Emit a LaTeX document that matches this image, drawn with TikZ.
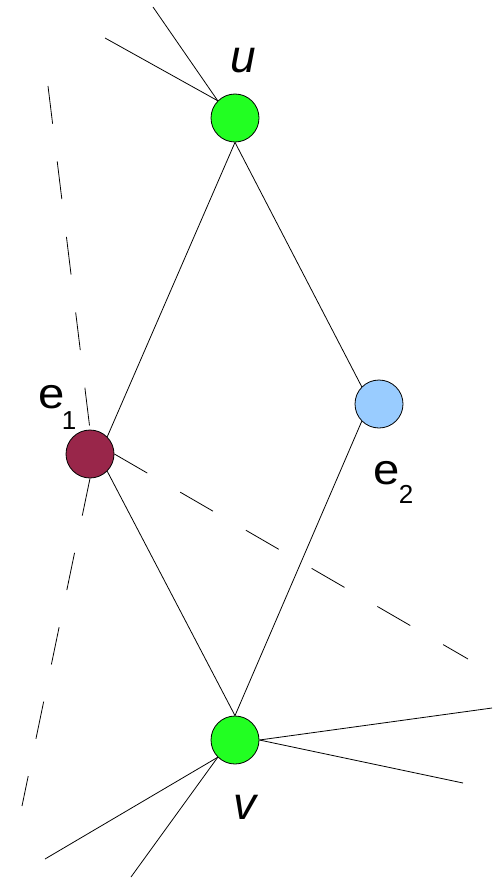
\documentclass[tikz,border=0pt]{standalone}
\usepackage{fontspec}
\setmainfont{Liberation Sans}
\begin{document}
\begin{tikzpicture}[x=1pt,y=-1pt,
  vert/.style={circle,draw=black,line width=0.8pt,minimum size=48pt,inner sep=0pt},
  edge/.style={draw=black,line width=0.8pt},
  dashedge/.style={draw=black,line width=0.8pt,dash pattern=on 38pt off 38pt},
  lbl/.style={font=\fontsize{46}{46}\selectfont,inner sep=0pt,anchor=base},
  elbl/.style={font=\fontsize{43}{43}\selectfont,inner sep=0pt,anchor=base,xscale=1.1},
  sub/.style={font=\fontsize{26}{26}\selectfont,inner sep=0pt,anchor=base}]
\definecolor{vgreen}{RGB}{34,255,34}
\definecolor{emaroon}{RGB}{153,38,74}
\definecolor{eblue}{RGB}{153,204,255}
\useasboundingbox (0,0) rectangle (497,880);

\node[vert,fill=vgreen] (u) at (235,118) {};
\node[vert,fill=emaroon] (e1) at (90,454) {};
\node[vert,fill=eblue] (e2) at (379,404) {};
\node[vert,fill=vgreen] (v) at (235,740) {};

\coordinate (ua) at (153,7);
\coordinate (ub) at (105,38);
\coordinate (va) at (492,708);
\coordinate (vb) at (463,783);
\coordinate (vc) at (45,859);
\coordinate (vd) at (131,877);
\coordinate (da) at (48,86);
\coordinate (db) at (22,806);
\coordinate (dc) at (468,659);

\draw[edge] (u.135) -- (ua);
\draw[edge] (u.135) -- (ub);
\draw[edge] (u.south) -- (e1.45);
\draw[edge] (u.south) -- (e2.135);
\draw[edge] (e1.-45) -- (v.north);
\draw[edge] (e2.-135) -- (v.north);
\draw[edge] (v.east) -- (va);
\draw[edge] (v.east) -- (vb);
\draw[edge] (v.225) -- (vc);
\draw[edge] (v.225) -- (vd);

\draw[dashedge] (da) -- (e1.north);
\draw[dashedge] (e1.south) -- (db);
\draw[dashedge] (e1.east) -- (dc);

\node[lbl] (lu) at (243,73) {\itshape u};
\node[elbl] (le1) at (52,408) {e};
\node[sub] (le1s) at (69,429) {1};
\node[elbl] (le2) at (387,484) {e};
\node[sub] (le2s) at (406,503) {2};
\node[lbl] (lv) at (245,819) {\itshape v};
\end{tikzpicture}
\end{document}
